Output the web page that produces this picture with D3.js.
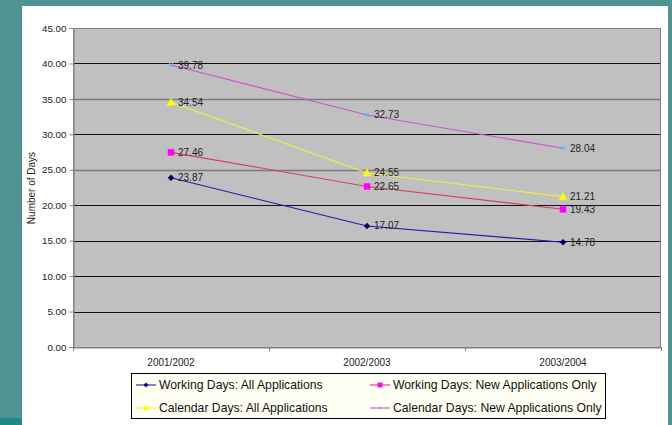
<!DOCTYPE html>
<html>
<head>
<meta charset="utf-8">
<script src="https://cdn.jsdelivr.net/npm/d3@7"></script>
<style>
  html, body { margin: 0; padding: 0; background: #4f9393; }
  svg { display: block; font-family: "Liberation Sans", Arial, sans-serif; }
</style>
</head>
<body>
<svg width="672" height="425"></svg>
<script>
// chart data
const years = ['2001/2002', '2002/2003', '2003/2004'];
const workingAll = [23.87, 17.07, 14.78];
const workingNew = [27.46, 22.65, 19.43];
const calendarAll = [34.54, 24.55, 21.21];
const calendarNew = [39.78, 32.73, 28.04];
const yTicks = [0, 5, 10, 15, 20, 25, 30, 35, 40, 45];

const series = [
    {name: 'Working Days: All Applications', values: workingAll, line: '#1c1ca8', marker: 'diamond', fill: '#000060'},
    {name: 'Working Days: New Applications Only', values: workingNew, line: '#d8405a', marker: 'square', fill: '#ff00ff'},
    {name: 'Calendar Days: All Applications', values: calendarAll, line: '#f0f040', marker: 'triangle', fill: '#ffff00'},
    {name: 'Calendar Days: New Applications Only', values: calendarNew, line: '#d050d8', marker: 'cross', fill: '#40c8f0'}
];

let svg = d3.select('svg');

// white slide panel
svg.append('rect').attr('x', 22).attr('y', 6).attr('width', 646).attr('height', 419).attr('fill', '#ffffff');
svg.append('rect').attr('x', 0).attr('y', 418).attr('width', 22).attr('height', 7).attr('fill', '#1f8a86');

let plot = {left: 73, right: 661, top: 28, bottom: 347};

let x = d3.scaleBand().domain(years).range([plot.left, plot.right]);
let y = d3.scaleLinear().domain([0, 45]).range([plot.bottom, plot.top]);

// plot area
svg.append('rect')
    .attr('x', plot.left).attr('y', plot.top)
    .attr('width', plot.right - plot.left).attr('height', plot.bottom - plot.top)
    .attr('fill', '#c0c0c0');

svg.append('g').selectAll('line').data(yTicks.filter(d => d > 0 && d < 45)).enter().append('line')
    .attr('x1', plot.left).attr('x2', plot.right)
    .attr('y1', d => Math.round(y(d)) + 0.5).attr('y2', d => Math.round(y(d)) + 0.5)
    .attr('stroke', d => (d === 25 || d === 35) ? '#7a7a7a' : '#111')
    .attr('stroke-width', d => (d === 25 || d === 35) ? 1.6 : 1);

svg.append('rect')
    .attr('x', plot.left + 0.5).attr('y', plot.top + 0.5)
    .attr('width', plot.right - plot.left - 1).attr('height', plot.bottom - plot.top)
    .attr('fill', 'none').attr('stroke', '#808080');

// y axis
let yAxis = svg.append('g')
    .attr('transform', `translate(${plot.left + 0.5},0)`)
    .call(d3.axisLeft(y).tickValues(yTicks).tickFormat(d3.format('.2f')).tickSize(4).tickPadding(3));
yAxis.select('.domain').attr('stroke', '#808080');
yAxis.selectAll('.tick line').attr('stroke', '#808080');
yAxis.selectAll('text').attr('font-size', 9.8).attr('fill', '#222').attr('font-family', 'Liberation Sans, Arial, sans-serif');

// x axis
let xAxis = svg.append('g')
    .attr('transform', `translate(0,${plot.bottom + 0.5})`)
    .call(d3.axisBottom(x).tickSize(0).tickPadding(11));
xAxis.select('.domain').attr('stroke', '#808080');
xAxis.selectAll('text').attr('font-size', 10).attr('fill', '#222').attr('font-family', 'Liberation Sans, Arial, sans-serif');
svg.append('g').selectAll('line').data(years.concat(['end'])).enter().append('line')
    .attr('x1', (d, i) => Math.round(plot.left + i * x.step()) + 0.5)
    .attr('x2', (d, i) => Math.round(plot.left + i * x.step()) + 0.5)
    .attr('y1', plot.bottom).attr('y2', plot.bottom + 4)
    .attr('stroke', '#808080');

svg.append('text')
    .attr('transform', 'translate(35,188) rotate(-90)')
    .attr('text-anchor', 'middle')
    .attr('font-size', 10).attr('fill', '#222')
    .text('Number of Days');

function markerPath(type) {
    if (type === 'diamond') return 'M0,-3L3,0L0,3L-3,0Z';
    if (type === 'square') return 'M-3,-3H3V3H-3Z';
    if (type === 'triangle') return 'M0,-4L4,3H-4Z';
    return 'M-1.8,-1.8L1.8,1.8M-1.8,1.8L1.8,-1.8';
}

function drawMarker(g, s, cx, cy, k) {
    g.append('path')
        .attr('transform', `translate(${cx},${cy}) scale(${k})`)
        .attr('d', markerPath(s.marker))
        .attr('fill', s.marker === 'cross' ? 'none' : s.fill)
        .attr('stroke', s.fill)
        .attr('stroke-width', s.marker === 'cross' ? 1.1 : 0.5);
}

let lineFunc = d3.line()
    .x((d, i) => x(years[i]) + x.bandwidth() / 2)
    .y(d => y(d));

series.forEach(s => {
    let g = svg.append('g');
    g.append('path')
        .attr('d', lineFunc(s.values))
        .attr('fill', 'none')
        .attr('stroke', s.line)
        .attr('stroke-width', 1.1);
    s.values.forEach((v, i) => {
        let cx = x(years[i]) + x.bandwidth() / 2;
        drawMarker(g, s, cx, y(v), 1);
        g.append('text')
            .attr('x', cx + 7).attr('y', y(v))
            .attr('dy', '0.35em')
            .attr('font-size', 10).attr('fill', '#222')
            .text(v.toFixed(2));
    });
});

// legend
let legend = svg.append('g');
legend.append('rect')
    .attr('x', 131.5).attr('y', 373.5).attr('width', 474).attr('height', 45)
    .attr('fill', '#fffff4').attr('stroke', '#000');
let legendPos = [[136, 385], [370, 385], [136, 408], [370, 408]];
series.forEach((s, i) => {
    let [lx, ly] = legendPos[i];
    legend.append('line')
        .attr('x1', lx).attr('x2', lx + 20).attr('y1', ly).attr('y2', ly)
        .attr('stroke', s.line).attr('stroke-width', 1.1);
    drawMarker(legend, s, lx + 10, ly, 0.75);
    legend.append('text')
        .attr('x', lx + 23).attr('y', ly).attr('dy', '0.35em')
        .attr('font-size', 12.2).attr('fill', '#111')
        .text(s.name);
});
</script>
</body>
</html>
